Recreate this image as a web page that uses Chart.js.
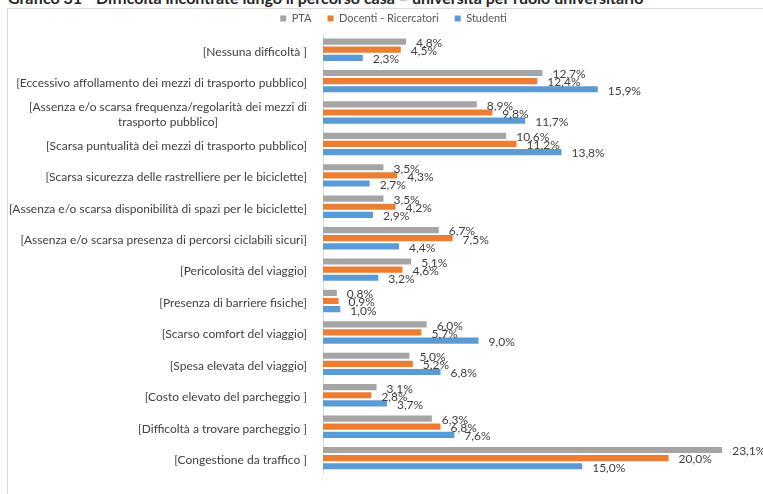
<!DOCTYPE html>
<html><head><meta charset="utf-8">
<script src="https://cdn.jsdelivr.net/npm/chart.js@4/dist/chart.umd.min.js"></script>
<style>
html,body{margin:0;padding:0;width:763px;height:494px;overflow:hidden;background:#fff;}
#title{position:absolute;left:8px;top:-10px;font:bold 16px Lato;color:#262626;white-space:nowrap;line-height:16px;}
#frame{position:absolute;left:7px;top:8px;width:800px;height:520px;border:1px solid #d9d9d9;}
#wrap{position:absolute;left:8px;top:-3px;width:774px;height:500px;}
</style></head><body>
<div id="title">Grafico 31 - Difficoltà incontrate lungo il percorso casa – università per ruolo universitario</div>
<div id="frame"></div>
<div id="wrap"><canvas id="c"></canvas></div>
<script>
const categories = [
  ['[Nessuna difficoltà ]'],
  ['[Eccessivo affollamento dei mezzi di trasporto pubblico]'],
  ['[Assenza e/o scarsa frequenza/regolarità dei mezzi di', 'trasporto pubblico]'],
  ['[Scarsa puntualità dei mezzi di trasporto pubblico]'],
  ['[Scarsa sicurezza delle rastrelliere per le biciclette]'],
  ['[Assenza e/o scarsa disponibilità di spazi per le biciclette]'],
  ['[Assenza e/o scarsa presenza di percorsi ciclabili sicuri]'],
  ['[Pericolosità del viaggio]'],
  ['[Presenza di barriere fisiche]'],
  ['[Scarso comfort del viaggio]'],
  ['[Spesa elevata del viaggio]'],
  ['[Costo elevato del parcheggio ]'],
  ['[Difficoltà a trovare parcheggio ]'],
  ['[Congestione da traffico ]']
];
const seriesNames = ['PTA', 'Docenti - Ricercatori', 'Studenti'];
const pta      = [4.8, 12.7, 8.9, 10.6, 3.5, 3.5, 6.7, 5.1, 0.8, 6.0, 5.0, 3.1, 6.3, 23.1];
const docenti  = [4.5, 12.4, 9.8, 11.2, 4.3, 4.2, 7.5, 4.6, 0.9, 5.7, 5.2, 2.8, 6.8, 20.0];
const studenti = [2.3, 15.9, 11.7, 13.8, 2.7, 2.9, 4.4, 3.2, 1.0, 9.0, 6.8, 3.7, 7.6, 15.0];
const xMax = 25;

const colors = ['#A5A5A5', '#ED7D31', '#5B9BD5'];
const fmt = v => v.toFixed(1).replace('.', ',') + '%';

const measureCtx = document.createElement('canvas').getContext('2d');
measureCtx.font = '12px Lato';
function centerLines(lines) {
  if (lines.length < 2) return lines[0];
  const widths = lines.map(l => measureCtx.measureText(l).width);
  const maxW = Math.max(...widths);
  const sp = measureCtx.measureText('\u00A0').width;
  return lines.map((l, i) => {
    const n = Math.round((maxW - widths[i]) / 2 / sp);
    return l + '\u00A0'.repeat(n);
  });
}

const valueLabels = {
  id: 'valueLabels',
  afterDatasetsDraw(chart) {
    const ctx = chart.ctx;
    ctx.save();
    ctx.font = '12px Lato';
    ctx.fillStyle = '#404040';
    ctx.textBaseline = 'middle';
    ctx.textAlign = 'left';
    chart.data.datasets.forEach((ds, i) => {
      chart.getDatasetMeta(i).data.forEach((bar, j) => {
        ctx.fillText(fmt(ds.data[j]), bar.x + 10, bar.y + 1.5);
      });
    });
    ctx.restore();
  }
};

const legendShift = {
  id: 'legendShift',
  afterLayout(chart) {
    if (chart.legend) chart.legend.left += 24;
  }
};

new Chart(document.getElementById('c'), {
  type: 'bar',
  data: {
    labels: categories.map(centerLines),
    datasets: [pta, docenti, studenti].map((d, i) => ({
      label: seriesNames[i],
      data: d,
      backgroundColor: colors[i],
      borderWidth: 0,
      categoryPercentage: 0.776,
      barPercentage: 0.76
    }))
  },
  options: {
    indexAxis: 'y',
    responsive: true,
    maintainAspectRatio: false,
    animation: false,
    devicePixelRatio: 1,
    layout: { padding: { left: 0, right: 27, top: 0, bottom: 4 } },
    plugins: {
      legend: {
        position: 'top',
        labels: {
          boxWidth: 6, boxHeight: 6, padding: 16,
          font: { family: 'Lato', size: 11 }, color: '#595959'
        }
      },
      tooltip: { enabled: false }
    },
    scales: {
      x: { display: false, min: 0, max: xMax },
      y: {
        afterFit: s => { s.width = 315; },
        grid: { color: 'rgba(0,0,0,0)', drawTicks: false },
        border: { display: true, color: '#d9d9d9', width: 1 },
        ticks: {
          autoSkip: false, padding: 16, labelOffset: 2,
          font: { family: 'Lato', size: 12 }, color: '#404040'
        }
      }
    }
  },
  plugins: [valueLabels, legendShift]
});
</script>
</body></html>
